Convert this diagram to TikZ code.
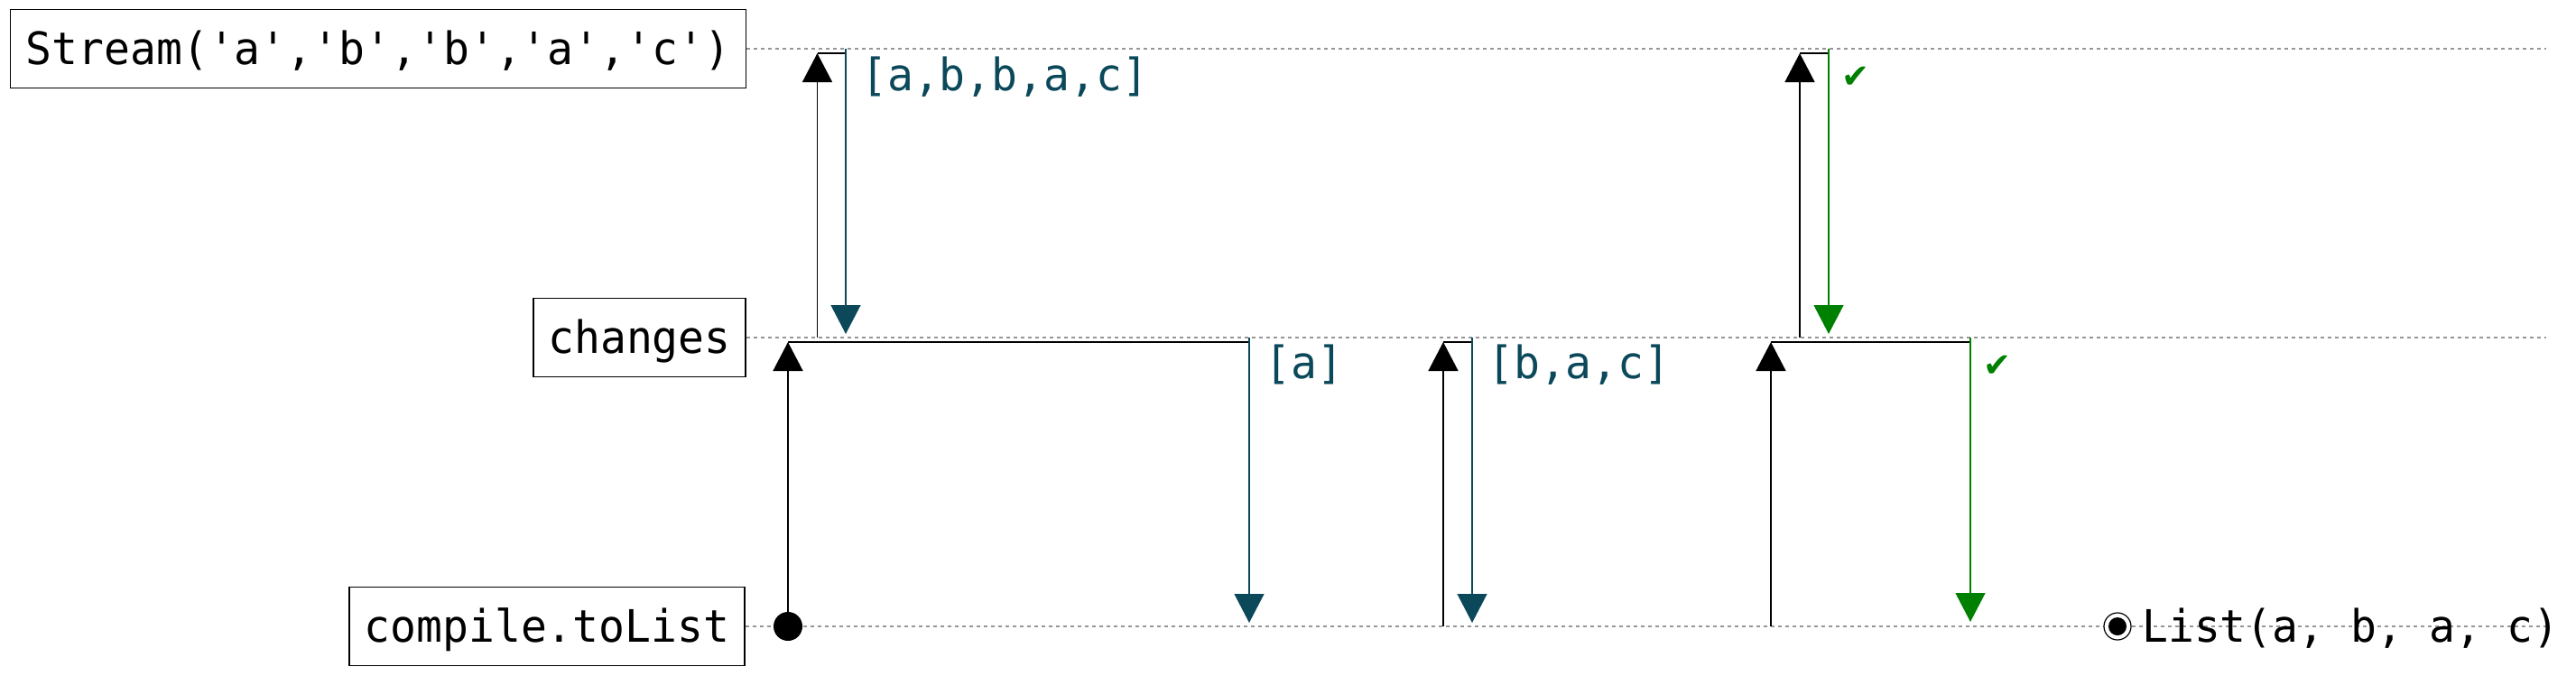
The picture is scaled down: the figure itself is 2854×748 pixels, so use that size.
\documentclass[tikz,border=0pt]{standalone}
\usepackage{fontspec}
\setmonofont{DejaVu Sans Mono}[FakeStretch=0.97]
\newfontfamily\dsans{DejaVu Sans}
\usetikzlibrary{arrows.meta}
\definecolor{flowblue}{RGB}{10,72,90}
\definecolor{okgreen}{RGB}{0,128,0}
\definecolor{lanegray}{RGB}{150,150,150}
\newcommand{\txtfont}{\ttfamily\fontsize{49.5}{59}\selectfont}
\begin{document}
\begin{tikzpicture}[x=1pt,y=-1pt,
  box/.style={draw=black, line width=1.5pt, inner sep=0pt, minimum height=87pt,
    text height=40pt, text depth=6pt, font=\txtfont},
  lane/.style={draw=lanegray, line width=1.2pt, dash pattern=on 4pt off 4pt},
  callarr/.style={draw=black, line width=1.5pt, -{Triangle[width=33pt,length=32pt]}},
  link/.style={draw=black, line width=1.5pt},
  retblue/.style={draw=flowblue, line width=1.2pt, -{Triangle[width=33pt,length=32pt,fill=flowblue]}},
  retgreen/.style={draw=okgreen, line width=1.2pt, -{Triangle[width=33pt,length=32pt,fill=okgreen]}},
  lbl/.style={anchor=base west, inner sep=0pt, text=flowblue, font=\txtfont},
  chk/.style={anchor=base west, inner sep=0pt, text=okgreen, font=\dsans\fontsize{37}{44}\selectfont},
  dotstart/.style={circle, fill=black, inner sep=0pt, minimum size=32pt}
]
\useasboundingbox (0,0) rectangle (2854,748);

% lifeline boxes
\node[box, minimum width=815pt] (stream) at (419,54) {Stream('a','b','b','a','c')\hspace{9pt}};
\node[box, minimum width=235pt] (changes) at (708.5,374) {changes};
\node[box, minimum width=438pt] (compile) at (606,694) {compile.toList};

% lanes
\coordinate (laneEnd) at (2821,0);
\draw[lane] (stream.east) -- (stream.east -| laneEnd);
\draw[lane] (changes.east) -- (changes.east -| laneEnd);
\draw[lane] (compile.east) -- (compile.east -| laneEnd);

% end marker and result
\node[circle, draw=black, line width=1.2pt, fill=white, inner sep=0pt, minimum size=30pt] (endring) at (2346,694) {};
\node[circle, fill=black, inner sep=0pt, minimum size=20pt] (enddot) at (endring.center) {};
\node[anchor=base west, inner sep=0pt, font=\txtfont] (result) at (2373,711) {List(a, b, a, c)};

% 1: compile -> changes, returns [a]
\node[dotstart] (start) at (873,694) {};
\coordinate (c1top) at (873,379);
\coordinate (r1top) at (1384,374);
\coordinate (r1bot) at (1384,690);
\draw[callarr] (start.center) -- (c1top);
\draw[link] (c1top) -- (c1top -| r1top);
\draw[retblue] (r1top) -- (r1bot);
\node[lbl] (l1) at (1401,419) {[a]};

% 2: changes -> stream, returns [a,b,b,a,c]
\coordinate (c2bot) at (905.5,374);
\coordinate (c2top) at (905.5,59);
\coordinate (r2top) at (937,54);
\coordinate (r2bot) at (937,370);
\draw[callarr] (c2bot) -- (c2top);
\draw[link] (c2top) -- (c2top -| r2top);
\draw[retblue] (r2top) -- (r2bot);
\node[lbl] (l2) at (954,100) {[a,b,b,a,c]};

% 3: compile -> changes, returns [b,a,c]
\coordinate (c3bot) at (1599,694);
\coordinate (c3top) at (1599,379);
\coordinate (r3top) at (1631,374);
\coordinate (r3bot) at (1631,690);
\draw[callarr] (c3bot) -- (c3top);
\draw[link] (c3top) -- (c3top -| r3top);
\draw[retblue] (r3top) -- (r3bot);
\node[lbl] (l3) at (1648,419) {[b,a,c]};

% 4: changes -> stream, completes
\coordinate (c4bot) at (1994,374);
\coordinate (c4top) at (1994,59);
\coordinate (r4top) at (2026,54);
\coordinate (r4bot) at (2026,370);
\draw[callarr] (c4bot) -- (c4top);
\draw[link] (c4top) -- (c4top -| r4top);
\draw[retgreen] (r4top) -- (r4bot);
\node[chk] (k4) at (2040,97) {✔};

% 5: compile -> changes, completes
\coordinate (c5bot) at (1962,694);
\coordinate (c5top) at (1962,379);
\coordinate (r5top) at (2183,374);
\coordinate (r5bot) at (2183,689);
\draw[callarr] (c5bot) -- (c5top);
\draw[link] (c5top) -- (c5top -| r5top);
\draw[retgreen] (r5top) -- (r5bot);
\node[chk] (k5) at (2197,417) {✔};
\end{tikzpicture}
\end{document}
